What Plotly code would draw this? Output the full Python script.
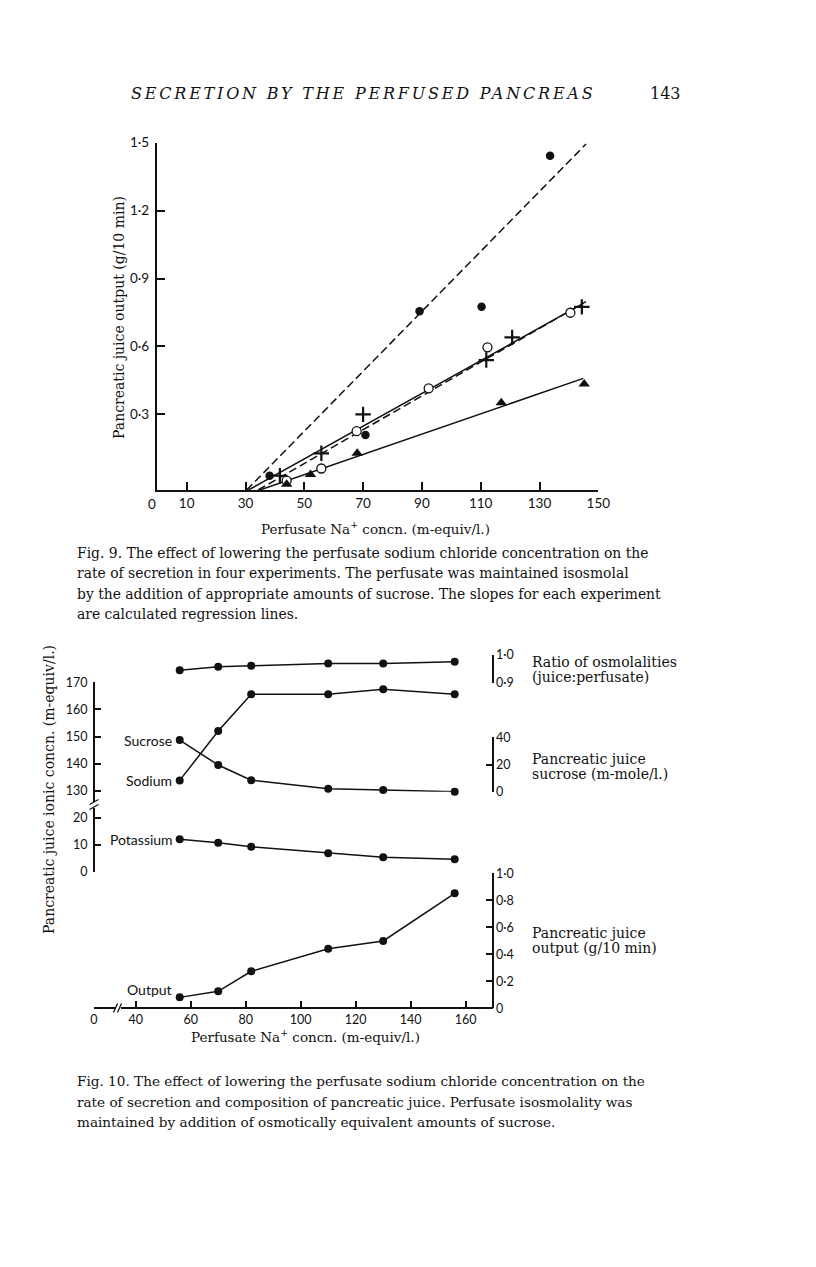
import plotly.graph_objects as go

# The page body keeps an 8px default margin, so the figure is drawn 8px in
# from the top-left corner of the 816x1267 window.
PAGE_W, PAGE_H = 816, 1267
OFF = 8
W, H = PAGE_W - OFF, PAGE_H - OFF

# ---------------- Fig. 9 data ----------------
FILLED_X = [38.2, 70.8, 89.2, 110.3, 133.6]
FILLED_Y = [0.029, 0.209, 0.756, 0.775, 1.442]
OPEN_X = [44.0, 55.8, 67.8, 92.3, 112.3, 140.5]
OPEN_Y = [0.007, 0.061, 0.226, 0.415, 0.596, 0.749]
CROSS_X = [41.7, 55.8, 70.0, 111.9, 120.7, 144.4]
CROSS_Y = [0.029, 0.128, 0.300, 0.540, 0.640, 0.775]
TRI_X = [44.0, 52.1, 68.0, 117.0, 145.2]
TRI_Y = [-0.009, 0.035, 0.128, 0.351, 0.434]

# regression lines (end points)
REG_FILLED_X = [30.4, 145.8]
REG_FILLED_Y = [-0.034, 1.494]
REG_OPEN_X = [31.0, 144.9]
REG_OPEN_Y = [-0.034, 0.790]
REG_CROSS_X = [34.3, 145.8]
REG_CROSS_Y = [-0.034, 0.798]
REG_TRI_X = [34.9, 144.9]
REG_TRI_Y = [-0.034, 0.459]

FIG9_XTICKS = [10, 30, 50, 70, 90, 110, 130, 150]
FIG9_YTICKS = [0.3, 0.6, 0.9, 1.2, 1.5]
FIG9_YTICKTEXT = ["0·3", "0·6", "0·9", "1·2", "1·5"]

# ---------------- Fig. 10 data ----------------
PERF_NA = [56, 70, 82, 110, 130, 156]
RATIO = [0.945, 0.958, 0.961, 0.969, 0.969, 0.976]
SODIUM = [133.8, 152.0, 165.6, 165.6, 167.4, 165.6]
SUCROSE = [38.0, 19.6, 8.4, 2.2, 1.2, 0.0]
POTASSIUM = [12.1, 10.8, 9.3, 6.9, 5.4, 4.6]
OUTPUT = [0.081, 0.126, 0.274, 0.441, 0.499, 0.852]

FIG10_XTICKS = [40, 60, 80, 100, 120, 140, 160]
NA_TICKS = [130, 140, 150, 160, 170]
K_TICKS = [0, 10, 20]
RATIO_TICKS = [0.9, 1.0]
RATIO_TICKTEXT = ["0·9", "1·0"]
SUC_TICKS = [0, 20, 40]
OUT_TICKS = [0, 0.2, 0.4, 0.6, 0.8, 1.0]
OUT_TICKTEXT = ["0", "0·2", "0·4", "0·6", "0·8", "1·0"]


def fx(px):
    return (px - OFF) / W


def fy(py):
    return 1 - (py - OFF) / H


SANS = "Lato"
SERIF = "DejaVu Serif"
INK = "#111111"

fig = go.Figure()

# ---- Fig 9 traces ----
dash9 = "8px,4px"
for xs, ys, d in [(REG_FILLED_X, REG_FILLED_Y, dash9), (REG_OPEN_X, REG_OPEN_Y, "solid"),
                  (REG_CROSS_X, REG_CROSS_Y, dash9), (REG_TRI_X, REG_TRI_Y, "solid")]:
    fig.add_trace(go.Scatter(x=xs, y=ys, mode="lines", xaxis="x", yaxis="y",
                             line=dict(color=INK, width=1.5, dash=d), showlegend=False,
                             hoverinfo="skip"))

fig.add_trace(go.Scatter(x=FILLED_X, y=FILLED_Y, mode="markers", xaxis="x", yaxis="y",
                         marker=dict(symbol="circle", size=8.5, color=INK), cliponaxis=False,
                         showlegend=False))
fig.add_trace(go.Scatter(x=OPEN_X, y=OPEN_Y, mode="markers", xaxis="x", yaxis="y",
                         marker=dict(symbol="circle", size=9, color="white",
                                     line=dict(color=INK, width=1.3)), cliponaxis=False,
                         showlegend=False))
fig.add_trace(go.Scatter(x=CROSS_X, y=CROSS_Y, mode="markers", xaxis="x", yaxis="y",
                         marker=dict(symbol="cross-thin", size=11,
                                     line=dict(color=INK, width=2.2)), cliponaxis=False,
                         showlegend=False))
fig.add_trace(go.Scatter(x=TRI_X, y=TRI_Y, mode="markers", xaxis="x", yaxis="y",
                         marker=dict(symbol="triangle-up", size=10, color=INK), cliponaxis=False,
                         showlegend=False))

# ---- Fig 10 traces ----
def f10(ys, yax):
    fig.add_trace(go.Scatter(x=PERF_NA, y=ys, mode="lines+markers", xaxis="x3", yaxis=yax,
                             line=dict(color=INK, width=1.5),
                             marker=dict(symbol="circle", size=8, color=INK),
                             cliponaxis=False, showlegend=False))


f10(RATIO, "y4")
f10(SODIUM, "y2")
f10(SUCROSE, "y5")
f10(POTASSIUM, "y3")
f10(OUTPUT, "y6")
# empty trace so that the short "0" stub of the broken x axis is drawn
fig.add_trace(go.Scatter(x=[None], y=[None], mode="markers", xaxis="x2", yaxis="y6",
                         showlegend=False, hoverinfo="skip"))

tickfont9 = dict(family=SANS, size=13.5, color=INK)
tickfont10 = dict(family=SANS, size=12.5, color=INK)
axcommon = dict(showgrid=False, zeroline=False, showline=True, linecolor=INK, linewidth=1.5,
                ticks="inside", tickcolor=INK, tickwidth=1.5, automargin=False)

fig.update_layout(
    xaxis=dict(domain=[fx(156.5), fx(598.3)], range=[-0.27, 150], anchor="y",
               tickvals=FIG9_XTICKS, ticktext=[str(v) for v in FIG9_XTICKS],
               ticklen=8, tickfont=tickfont9, **axcommon),
    yaxis=dict(domain=[fy(490), fy(142.7)], range=[-0.034, 1.5], anchor="x",
               tickvals=FIG9_YTICKS, ticktext=FIG9_YTICKTEXT, ticklen=9,
               ticklabelstandoff=3, tickfont=tickfont9, **axcommon),
    xaxis2=dict(domain=[fx(93.8), fx(115.5)], range=[0, (115.5 - 93.8) / 2.75],
                anchor="free", position=fy(1008.3), tickvals=[0], ticktext=["0"],
                ticklen=7, tickfont=tickfont10, **axcommon),
    xaxis3=dict(domain=[fx(121.0), fx(493.3)], range=[34.65, 170.04],
                anchor="free", position=fy(1008.3), tickvals=FIG10_XTICKS,
                ticktext=[str(v) for v in FIG10_XTICKS], ticklen=7, tickfont=tickfont10,
                **axcommon),
    yaxis2=dict(domain=[fy(802), fy(682.3)], range=[125.83, 170], anchor="free",
                position=fx(93.8), side="left", tickvals=NA_TICKS, ticklen=6,
                ticklabelstandoff=3, tickfont=tickfont10, **axcommon),
    yaxis3=dict(domain=[fy(871.7), fy(808)], range=[0, 23.77], anchor="free",
                position=fx(93.8), side="left", tickvals=K_TICKS, ticklen=6,
                ticklabelstandoff=3, tickfont=tickfont10, **axcommon),
    yaxis4=dict(domain=[fy(682.7), fy(655)], range=[0.9, 1.0], anchor="free",
                position=fx(492.8), side="right", tickvals=RATIO_TICKS,
                ticktext=RATIO_TICKTEXT, ticklen=6, tickfont=tickfont10, **axcommon),
    yaxis5=dict(domain=[fy(791.7), fy(737.3)], range=[0, 40], anchor="free",
                position=fx(492.8), side="right", tickvals=SUC_TICKS, ticklen=6,
                tickfont=tickfont10, **axcommon),
    yaxis6=dict(domain=[fy(1008.3), fy(873.3)], range=[0, 1.0], anchor="free",
                position=fx(492.8), side="right", tickvals=OUT_TICKS,
                ticktext=OUT_TICKTEXT, ticklen=6, tickfont=tickfont10, **axcommon),
)

# break marks
shapes = []
for (x0, y0, x1, y1) in [(113.5, 1012.5, 117.5, 1003.5), (117.5, 1012.5, 121.5, 1003.5),
                         (89.5, 804.5, 98.5, 799.5), (89.5, 809.5, 98.5, 804.5)]:
    shapes.append(dict(type="line", xref="paper", yref="paper", x0=fx(x0), y0=fy(y0),
                       x1=fx(x1), y1=fy(y1), line=dict(color=INK, width=1.3)))
fig.update_layout(shapes=shapes)

ann = []


def txt(text, px, py, size=14, family=SERIF, xanchor="left", angle=0, **kw):
    ann.append(dict(text=text, x=fx(px), y=fy(py), xref="paper", yref="paper",
                    xanchor=xanchor, yanchor="middle", showarrow=False, textangle=angle,
                    font=dict(family=family, size=size, color=INK), **kw))


# header
txt('<span style="letter-spacing:2.8px"><i>SECRETION BY THE PERFUSED PANCREAS</i></span>',
    363.5, 93, size=16, xanchor="center")
txt("143", 665, 93, size=16, xanchor="center")

# Fig 9 texts
txt("0", 152.3, 504, size=13.5, family=SANS, xanchor="center")
txt("Pancreatic juice output (g/10 min)", 119, 318, size=14, xanchor="center", angle=-90)
txt("Perfusate Na<sup>+</sup> concn. (m-equiv/l.)", 375, 528, size=13.5, xanchor="center")
cap9 = ["Fig. 9. The effect of lowering the perfusate sodium chloride concentration on the",
        "rate of secretion in four experiments. The perfusate was maintained isosmolal",
        "by the addition of appropriate amounts of sucrose. The slopes for each experiment",
        "are calculated regression lines."]
for i, line in enumerate(cap9):
    txt(line, 75, 553 + i * 20.4, size=13.9)

# Fig 10 texts
txt("Pancreatic juice ionic concn. (m-equiv/l.)", 49, 790, size=14, xanchor="center", angle=-90)
txt("Perfusate Na<sup>+</sup> concn. (m-equiv/l.)", 305, 1036, size=13.5, xanchor="center")
right_labels = [("Ratio of osmolalities", 661.5), ("(juice:perfusate)", 677),
                ("Pancreatic juice", 758.5), ("sucrose (m-mole/l.)", 773.5),
                ("Pancreatic juice", 932.5), ("output (g/10 min)", 947.5)]
for t, py in right_labels:
    txt(t, 530, py, size=14)

# series labels anchored to the first data point
for t, yv, yref, xs, ys in [("Sucrose", SUCROSE[0], "y5", -6, 0),
                            ("Sodium", SODIUM[0], "y2", -6, 0),
                            ("Potassium", POTASSIUM[0], "y3", -5, 0),
                            ("Output", OUTPUT[0], "y6", -6, 8)]:
    ann.append(dict(text=t, x=PERF_NA[0], y=yv, xref="x3", yref=yref, xanchor="right",
                    yanchor="middle", xshift=xs, yshift=ys, showarrow=False,
                    font=dict(family=SANS, size=14, color=INK)))

cap10 = ["Fig. 10. The effect of lowering the perfusate sodium chloride concentration on the",
         "rate of secretion and composition of pancreatic juice. Perfusate isosmolality was",
         "maintained by addition of osmotically equivalent amounts of sucrose."]
for i, line in enumerate(cap10):
    txt(line, 75, 1081 + i * 20.5, size=13.6)

fig.update_layout(annotations=ann, width=W, height=H, margin=dict(l=0, r=0, t=0, b=0),
                  paper_bgcolor="white", plot_bgcolor="rgba(0,0,0,0)", showlegend=False)

fig.write_html("out.html")
